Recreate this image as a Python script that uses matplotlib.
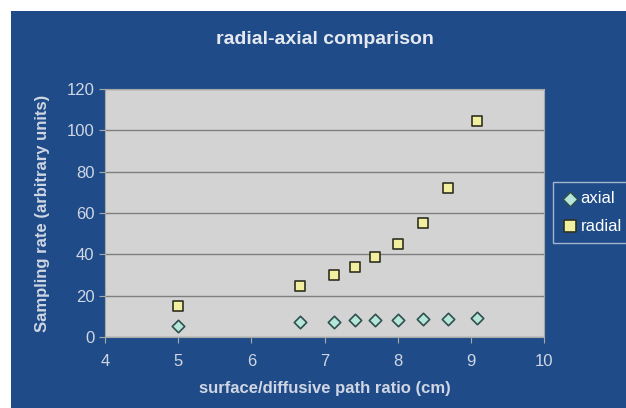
import matplotlib.pyplot as plt
from matplotlib.patches import Rectangle

plt.rcParams['font.family'] = ['Liberation Sans', 'DejaVu Sans']

# data
ratio = [5.0, 6.66, 7.13, 7.42, 7.69, 8.01, 8.34, 8.69, 9.09]
radial = [15.0, 24.7, 30.1, 33.7, 38.6, 44.8, 55.2, 72.0, 104.5]
axial = [5.3, 7.3, 7.3, 8.1, 8.1, 8.1, 8.7, 8.7, 9.3]
xticks = [4, 5, 6, 7, 8, 9, 10]
yticks = [0, 20, 40, 60, 80, 100, 120]

blue = '#1f4c88'
txt = '#d0d6e4'

fig = plt.figure(figsize=(6.26, 4.08), dpi=100)
fig.patch.set_facecolor('white')
# blue slide background
bg = Rectangle((11/626, 0), 1, 1 - 11/408, transform=fig.transFigure,
               facecolor=blue, edgecolor='none', zorder=-10)
fig.add_artist(bg)

ax = fig.add_axes([105/626, 71/408, 439/626, 248/408])
ax.set_zorder(1)
ax.set_facecolor('#d3d3d3')
ax.scatter(ratio, axial, marker='D', s=40, facecolor='#b5e6d8', edgecolor='#2f4f4f',
           linewidth=1.2, zorder=3, label='axial')
ax.scatter(ratio, radial, marker='s', s=48, facecolor='#f2f0a0', edgecolor='#303020',
           linewidth=1.2, zorder=3, label='radial')

ax.set_xlim(4, 10)
ax.set_ylim(0, 120)
ax.set_xticks(xticks)
ax.set_yticks(yticks)
ax.yaxis.grid(True, color='#7f7f7f', linewidth=1.0)
ax.set_axisbelow(True)
for s in ax.spines.values():
    s.set_color('#a8a8a8')
ax.tick_params(colors='#a8a8a8', labelcolor=txt, labelsize=12, length=4, direction='out')
ax.tick_params(axis='x', pad=8)

ax.set_xlabel('surface/diffusive path ratio (cm)', color=txt, fontsize=12,
              fontweight='bold', labelpad=9)
ax.set_ylabel('Sampling rate (arbitrary units)', color=txt, fontsize=12,
              fontweight='bold', labelpad=12)
fig.text(325/626, 1 - 39/408, 'radial-axial comparison', color='#e6e8f0', fontsize=14,
         fontweight='bold', ha='center', va='center')

leg = fig.legend(loc='upper left', bbox_to_anchor=(553/626, 1 - 182/408),
                 borderaxespad=0, frameon=True, fontsize=12, markerscale=1.2,
                 handletextpad=0.2, borderpad=0.55, labelspacing=0.75,
                 handlelength=0.9, fancybox=False)
leg.get_frame().set_facecolor(blue)
leg.get_frame().set_edgecolor('#c8cfe0')
for t in leg.get_texts():
    t.set_color('white')

fig.savefig('out.png', dpi=100, facecolor=fig.get_facecolor())
